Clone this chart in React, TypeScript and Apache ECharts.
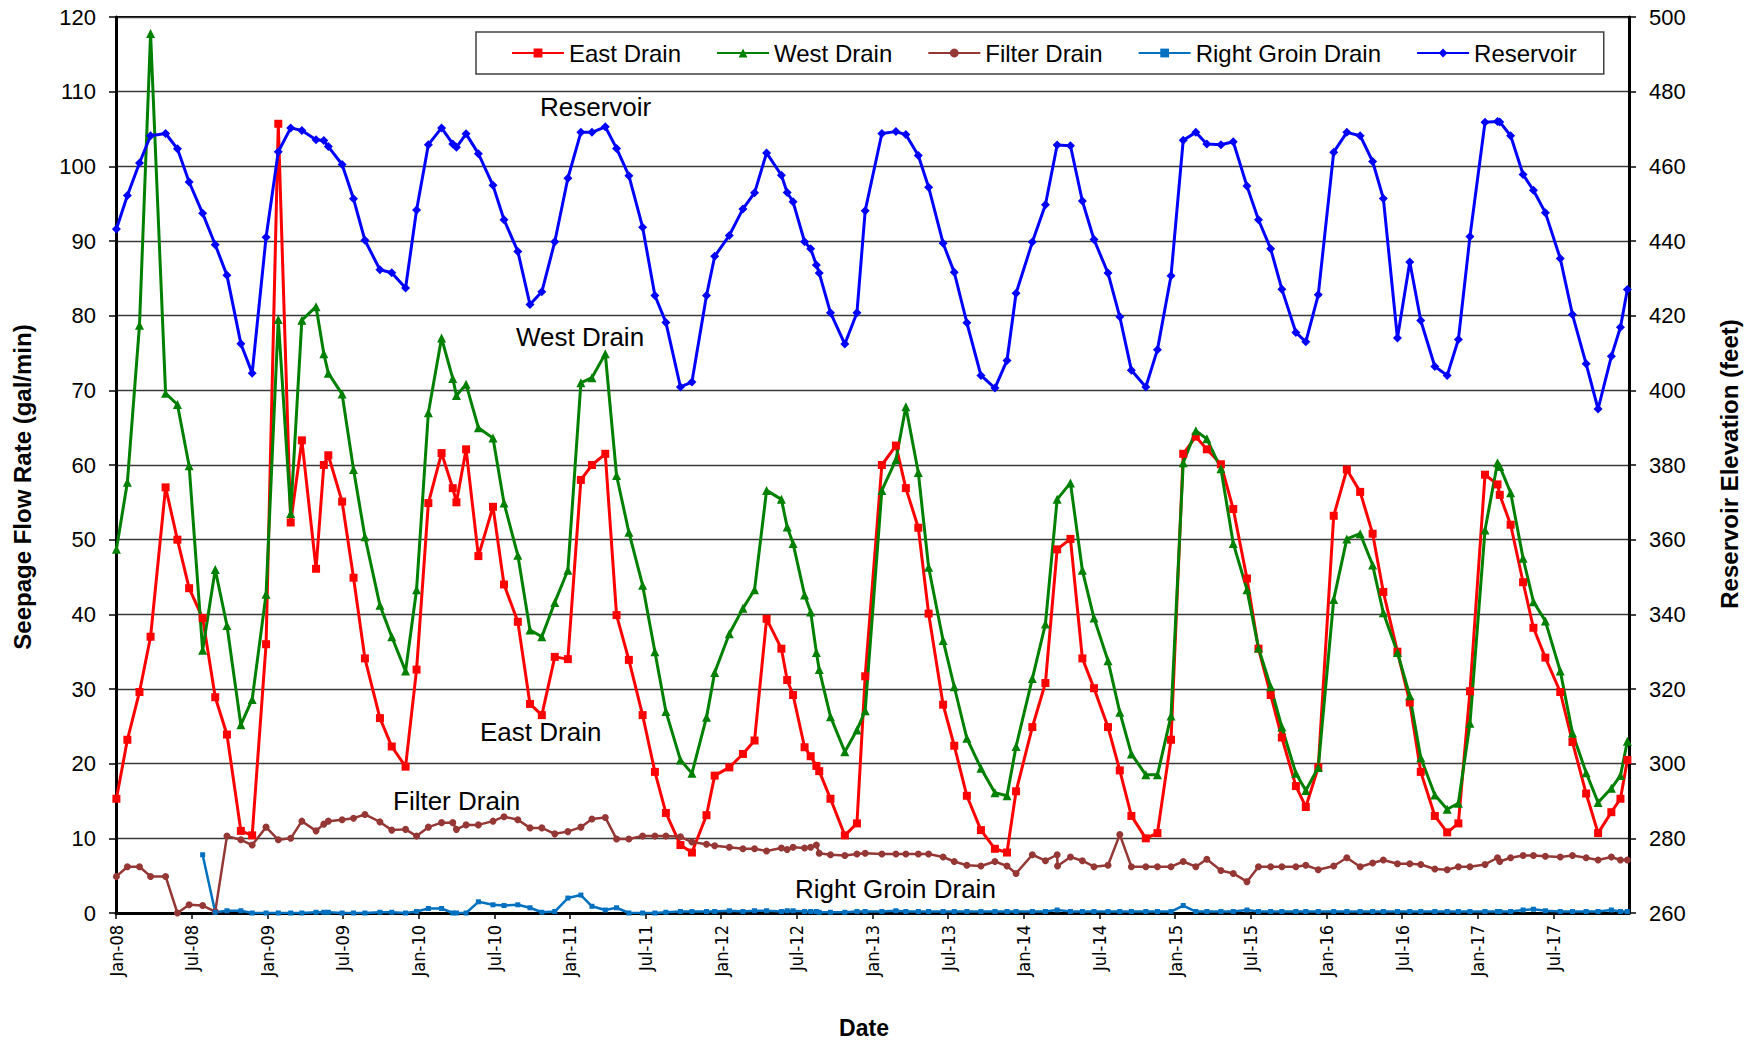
import React, { useEffect, useRef } from "react";
import * as echarts from "echarts";

// Sample dates (one measurement per entry)
const dates = [
  "2008-01-02", "2008-01-29", "2008-02-26", "2008-03-24", "2008-04-29", "2008-05-28", "2008-06-25", "2008-07-28", "2008-08-28", "2008-09-25",
  "2008-10-29", "2008-11-25", "2008-12-29", "2009-01-28", "2009-02-25", "2009-03-24", "2009-04-27", "2009-05-16", "2009-05-27", "2009-06-29",
  "2009-07-27", "2009-08-24", "2009-09-29", "2009-10-28", "2009-11-30", "2009-12-27", "2010-01-25", "2010-02-24", "2010-03-23", "2010-04-01",
  "2010-04-24", "2010-05-24", "2010-06-28", "2010-07-25", "2010-08-28", "2010-09-26", "2010-10-25", "2010-11-25", "2010-12-27", "2011-01-28",
  "2011-02-22", "2011-03-26", "2011-04-22", "2011-05-22", "2011-06-24", "2011-07-24", "2011-08-20", "2011-09-24", "2011-10-22", "2011-11-26",
  "2011-12-16", "2012-01-21", "2012-02-22", "2012-03-21", "2012-04-19", "2012-05-25", "2012-06-08", "2012-06-22", "2012-07-20", "2012-08-04",
  "2012-08-18", "2012-08-25", "2012-09-21", "2012-10-26", "2012-11-24", "2012-12-14", "2013-01-24", "2013-02-25", "2013-03-21", "2013-04-20",
  "2013-05-15", "2013-06-19", "2013-07-16", "2013-08-16", "2013-09-19", "2013-10-23", "2013-11-21", "2013-12-13", "2014-01-22", "2014-02-21",
  "2014-03-21", "2014-03-22", "2014-04-22", "2014-05-21", "2014-06-18", "2014-07-22", "2014-08-20", "2014-09-17", "2014-10-22", "2014-11-19",
  "2014-12-22", "2015-01-21", "2015-02-19", "2015-03-17", "2015-04-20", "2015-05-20", "2015-06-22", "2015-07-20", "2015-08-19", "2015-09-15",
  "2015-10-19", "2015-11-12", "2015-12-12", "2016-01-19", "2016-02-19", "2016-03-22", "2016-04-21", "2016-05-17", "2016-06-20", "2016-07-20",
  "2016-08-16", "2016-09-19", "2016-10-19", "2016-11-15", "2016-12-13", "2017-01-19", "2017-02-17", "2017-02-22", "2017-03-20", "2017-04-19",
  "2017-05-14", "2017-06-12", "2017-07-18", "2017-08-17", "2017-09-19", "2017-10-18", "2017-11-19", "2017-12-11", "2017-12-28",
];

// Seepage flow rate (gal/min)
const eastDrain = [
  15.3, 23.2, 29.6, 37, 57, 50, 43.5, 39.5, 28.9, 23.9,
  11, 10.4, 36, 105.7, 52.3, 63.3, 46.1, 60, 61.3, 55.1,
  44.9, 34.1, 26.1, 22.3, 19.6, 32.6, 54.9, 61.6, 56.9, 55,
  62.1, 47.8, 54.4, 44, 39, 28, 26.5, 34.3, 34, 58,
  60, 61.5, 39.9, 33.9, 26.5, 18.9, 13.4, 9.1, 8.1, 13.1,
  18.4, 19.5, 21.3, 23.1, 39.4, 35.4, 31.2, 29.2, 22.2, 21,
  19.7, 19, 15.3, 10.4, 12, 31.7, 60, 62.6, 56.9, 51.6,
  40.1, 27.9, 22.4, 15.7, 11.1, 8.6, 8.1, 16.3, 24.9, 30.8,
  48.7, null, 50.1, 34.1, 30.1, 24.9, 19.1, 13, 10, 10.7,
  23.2, 61.5, 63.8, 62.1, 60.1, 54.1, 44.8, 35.4, 29.2, 23.5,
  17, 14.2, 19.5, 53.2, 59.4, 56.4, 50.8, 43, 35, 28.2,
  18.9, 13, 10.8, 12, 29.7, 58.7, 57.4, 56, 52, 44.3,
  38.2, 34.2, 29.6, 22.9, 16, 10.7, 13.5, 15.3, 20.5,
];

const westDrain = [
  48.7, 57.7, 78.7, 117.8, 69.6, 68.1, 59.9, 35.2, 46, 38.5,
  25.2, 28.6, 42.7, 79.5, 53.5, 79.4, 81.2, 74.9, 72.3, 69.5,
  59.4, 50.4, 41.2, 37, 32.4, 43.3, 67, 77, 71.6, 69.3,
  70.8, 65, 63.6, 54.9, 47.9, 37.9, 37, 41.6, 45.9, 71,
  71.7, 74.9, 58.6, 51, 43.9, 35, 27, 20.5, 18.7, 26.2,
  32.2, 37.4, 40.8, 43.3, 56.6, 55.4, 51.7, 49.5, 42.6, 40.3,
  34.9, 32.6, 26.3, 21.6, 24.5, 27.1, 56.6, 60.7, 67.8, 59,
  46.3, 36.5, 30.3, 23.4, 19.4, 16.1, 15.7, 22.3, 31.4, 38.7,
  55.4, null, 57.6, 45.9, 39.5, 33.8, 26.9, 21.3, 18.5, 18.5,
  26.4, 60.3, 64.6, 63.5, 59.5, 49.5, 43.3, 35.5, 30.3, 24.9,
  18.7, 16.4, 19.5, 42, 50.1, 50.8, 46.6, 40.2, 34.9, 29.1,
  20.8, 15.8, 13.9, 14.7, 25.4, 51.3, 60.3, 59.8, 56.3, 47.5,
  41.7, 39.1, 32.4, 24.1, 18.8, 14.8, 16.7, 18.4, 23,
];

const filterDrain = [
  4.9, 6.2, 6.2, 4.9, 4.9, 0, 1.1, 1.0, 0.2, 10.3,
  9.8, 9.1, 11.5, 9.8, 10, 12.3, 11, 11.9, 12.3, 12.5,
  12.7, 13.2, 12.2, 11.1, 11.2, 10.3, 11.5, 12.1, 12.1, 11.2,
  11.8, 11.8, 12.3, 12.9, 12.5, 11.4, 11.4, 10.6, 10.9, 11.5,
  12.6, 12.8, 9.9, 9.9, 10.3, 10.3, 10.3, 10.2, 9.5, 9.2,
  9, 8.8, 8.6, 8.6, 8.3, 8.7, 8.5, 8.8, 8.7, 8.8,
  9.1, 8.0, 7.8, 7.7, 7.9, 8.0, 7.9, 7.9, 7.9, 7.9,
  7.9, 7.5, 6.9, 6.4, 6.3, 6.9, 6.3, 5.3, 7.8, 7.0,
  7.8, 6.3, 7.5, 7.0, 6.2, 6.4, 10.5, 6.2, 6.2, 6.2,
  6.2, 6.9, 6.2, 7.2, 5.7, 5.3, 4.2, 6.2, 6.2, 6.2,
  6.2, 6.4, 5.8, 6.3, 7.4, 6.2, 6.7, 7.1, 6.6, 6.6,
  6.5, 5.9, 5.8, 6.2, 6.2, 6.5, 7.4, 6.9, 7.4, 7.7,
  7.7, 7.6, 7.5, 7.7, 7.4, 7.1, 7.5, 7.1, 7.1,
];

const rightGroinDrain = [
  null, null, null, null, null, null, null, 7.8, 0.1, 0.3,
  0.3, 0, 0, 0, 0, 0, 0.1, 0.1, 0.1, 0,
  0, 0, 0.1, 0.1, 0, 0.2, 0.6, 0.6, 0, 0,
  0, 1.5, 1.1, 1.0, 1.1, 0.7, 0.1, 0.2, 2.0, 2.4,
  0.9, 0.4, 0.7, 0, 0, 0, 0.1, 0.2, 0.2, 0.2,
  0.2, 0.3, 0.2, 0.3, 0.3, 0.2, 0.3, 0.3, 0.2, 0.2,
  0.2, 0.1, 0.1, 0.1, 0.2, 0.2, 0.2, 0.3, 0.2, 0.2,
  0.2, 0.2, 0.2, 0.2, 0.2, 0.2, 0.2, 0.2, 0.2, 0.2,
  0.4, null, 0.2, 0.2, 0.2, 0.2, 0.2, 0.2, 0.2, 0.2,
  0.2, 1.0, 0.2, 0.2, 0.2, 0.2, 0.4, 0.2, 0.2, 0.2,
  0.2, 0.2, 0.2, 0.2, 0.2, 0.2, 0.2, 0.2, 0.2, 0.2,
  0.2, 0.2, 0.2, 0.2, 0.2, 0.2, 0.2, 0.2, 0.2, 0.4,
  0.5, 0.3, 0.2, 0.2, 0.2, 0.2, 0.4, 0.2, 0.2,
];

// Reservoir elevation (feet)
const reservoir = [
  443.2, 452.2, 460.9, 468.2, 468.8, 464.7, 455.8, 447.4, 439, 430.8,
  412.5, 404.6, 441, 463.9, 470.3, 469.6, 467.1, 466.9, 465.3, 460.5,
  451.3, 440.2, 432.3, 431.5, 427.4, 448.3, 465.8, 470.3, 466, 465.1,
  468.7, 463.4, 454.9, 445.7, 437.2, 423, 426.4, 439.8, 456.8, 469.1,
  469.1, 470.6, 464.8, 457.5, 443.7, 425.4, 418.2, 400.9, 402.2, 425.4,
  435.9, 441.5, 448.6, 452.9, 463.6, 457.6, 453, 450.5, 439.8, 437.9,
  433.6, 431.4, 420.8, 412.4, 420.8, 448.1, 468.8, 469.3, 468.5, 462.9,
  454.4, 439.4, 431.6, 418.1, 404, 400.6, 408, 426, 439.7, 449.7,
  465.7, null, 465.5, 450.7, 440.4, 431.4, 419.7, 405.4, 400.9, 410.9,
  430.7, 467, 469.1, 466, 465.8, 466.6, 454.7, 445.7, 437.9, 427.1,
  415.5, 413, 425.6, 463.8, 469.1, 468.2, 461.3, 451.4, 414, 434.4,
  418.7, 406.4, 404, 413.6, 441.2, 471.8, 472, 471.9, 468.2, 457.8,
  453.6, 447.6, 435.3, 420.3, 407.1, 395, 409.1, 416.9, 427,
];

const seriesNames = ["East Drain", "West Drain", "Filter Drain", "Right Groin Drain", "Reservoir"];
const halfYearLabels = ["Jan", "Jul"];
const axisTitles = ["Seepage Flow Rate (gal/min)", "Reservoir Elevation (feet)", "Date"];
const START_YEAR = 2008;
const MONTHS_SHOWN = 120;

const FONT = "'Liberation Sans', Arial, Helvetica, sans-serif";
const TICK_FONT = "'Liberation Sans', Arial, sans-serif";
const XTICK_FONT = "'DejaVu Sans Condensed', 'DejaVu Sans', sans-serif";

function monthIndex(d: string): number {
  const [y, m, day] = d.split("-").map(Number);
  const dim = new Date(Date.UTC(y, m, 0)).getUTCDate();
  return (y - START_YEAR) * 12 + (m - 1) + (day - 1) / dim;
}

function pairs(vals: (number | null)[]) {
  const out: [number, number][] = [];
  dates.forEach((d, i) => {
    const v = vals[i];
    if (v !== null && v !== undefined) out.push([monthIndex(d), v]);
  });
  return out;
}

function monthLabel(v: number): string {
  const yr = START_YEAR + Math.floor(v / 12);
  const mo = v % 12 === 0 ? halfYearLabels[0] : halfYearLabels[1];
  return `${mo}-${String(yr % 100).padStart(2, "0")}`;
}

export default function App() {
  const ref = useRef<HTMLDivElement>(null);

  useEffect(() => {
    if (!ref.current) return;
    const chart = echarts.init(ref.current, undefined, { renderer: "svg" });

    const mk = (
      name: string,
      vals: (number | null)[],
      color: string,
      symbol: string,
      size: number,
      axis: number,
      width: number
    ) => ({
      name,
      type: "line",
      yAxisIndex: axis,
      data: pairs(vals),
      symbol,
      symbolSize: size,
      showSymbol: true,
      lineStyle: { color, width },
      itemStyle: { color, borderWidth: 0 },
      emphasis: { disabled: true },
    });

    const annText = (text: string, x: number, y: number) => ({
      type: "text",
      x,
      y,
      style: {
        text,
        fontSize: 26,
        fontFamily: FONT,
        fill: "#000",
        textAlign: "left",
        textVerticalAlign: "middle",
        verticalAlign: "middle",
      },
      z: 100,
    });

    const titleText = (text: string, x: number, y: number, rotation: number, size: number) => ({
      type: "text",
      x,
      y,
      rotation,
      style: {
        text,
        fontSize: size,
        fontWeight: "bold",
        fontFamily: FONT,
        fill: "#000",
        textAlign: "center",
        textVerticalAlign: "middle",
        verticalAlign: "middle",
      },
      z: 100,
    });

    chart.setOption({
      animation: false,
      backgroundColor: "#ffffff",
      grid: {
        left: 116,
        right: 131,
        top: 17,
        bottom: 129,
        show: true,
        borderColor: "#000",
        borderWidth: 2,
        backgroundColor: "transparent",
      },
      legend: {
        data: seriesNames,
        left: 476,
        top: 32,
        itemWidth: 52,
        itemHeight: 11,
        itemGap: 35,
        padding: [9, 27, 9, 35],
        borderColor: "#404040",
        borderWidth: 1.5,
        backgroundColor: "#fff",
        selectedMode: false,
        textStyle: { fontSize: 24, fontFamily: FONT, color: "#000" },
      },
      xAxis: {
        type: "value",
        min: 0,
        max: MONTHS_SHOWN,
        interval: 6,
        axisLine: { show: true, onZero: false, lineStyle: { color: "#000", width: 3 } },
        axisTick: { show: true, inside: false, length: 6, lineStyle: { color: "#000", width: 1.5 } },
        axisLabel: {
          rotate: 90,
          fontSize: 18,
          fontFamily: XTICK_FONT,
          color: "#000",
          margin: 12,
          showMaxLabel: false,
          formatter: (v: number) => monthLabel(v),
        },
        splitLine: { show: false },
      },
      yAxis: [
        {
          type: "value",
          min: 0,
          max: 120,
          interval: 10,
          position: "left",
          axisLine: { show: true, lineStyle: { color: "#000", width: 3 } },
          axisTick: { show: true, inside: false, length: 7, lineStyle: { color: "#000", width: 1.5 } },
          axisLabel: { fontSize: 22, fontFamily: TICK_FONT, color: "#000", margin: 20 },
          splitLine: { show: true, lineStyle: { color: "#3a3a3a", width: 1.3 } },
        },
        {
          type: "value",
          min: 260,
          max: 500,
          interval: 20,
          position: "right",
          axisLine: { show: true, lineStyle: { color: "#000", width: 3 } },
          axisTick: { show: true, inside: false, length: 7, lineStyle: { color: "#000", width: 1.5 } },
          axisLabel: { fontSize: 22, fontFamily: TICK_FONT, color: "#000", margin: 20 },
          splitLine: { show: false },
        },
      ],
      series: [
        mk(seriesNames[0], eastDrain, "#FF0000", "rect", 8, 0, 3),
        mk(seriesNames[1], westDrain, "#008000", "triangle", 9, 0, 3),
        mk(seriesNames[2], filterDrain, "#953735", "circle", 7, 0, 2.5),
        mk(seriesNames[3], rightGroinDrain, "#0070C0", "rect", 5, 0, 2.5),
        mk(seriesNames[4], reservoir, "#0000FF", "diamond", 9, 1, 3),
      ],
      graphic: [
        annText("Reservoir", 540, 107),
        annText("West Drain", 516, 337),
        annText("East Drain", 480, 732),
        annText("Filter Drain", 393, 801),
        annText("Right Groin Drain", 795, 889),
        titleText(axisTitles[0], 22, 487, Math.PI / 2, 24),
        titleText(axisTitles[1], 1729, 464, Math.PI / 2, 24),
        titleText(axisTitles[2], 864, 1028, 0, 23),
      ],
    });

    return () => chart.dispose();
  }, []);

  return (
    <div
      ref={ref}
      style={{ position: "fixed", left: 0, top: 0, width: 1760, height: 1042, background: "#fff" }}
    />
  );
}
